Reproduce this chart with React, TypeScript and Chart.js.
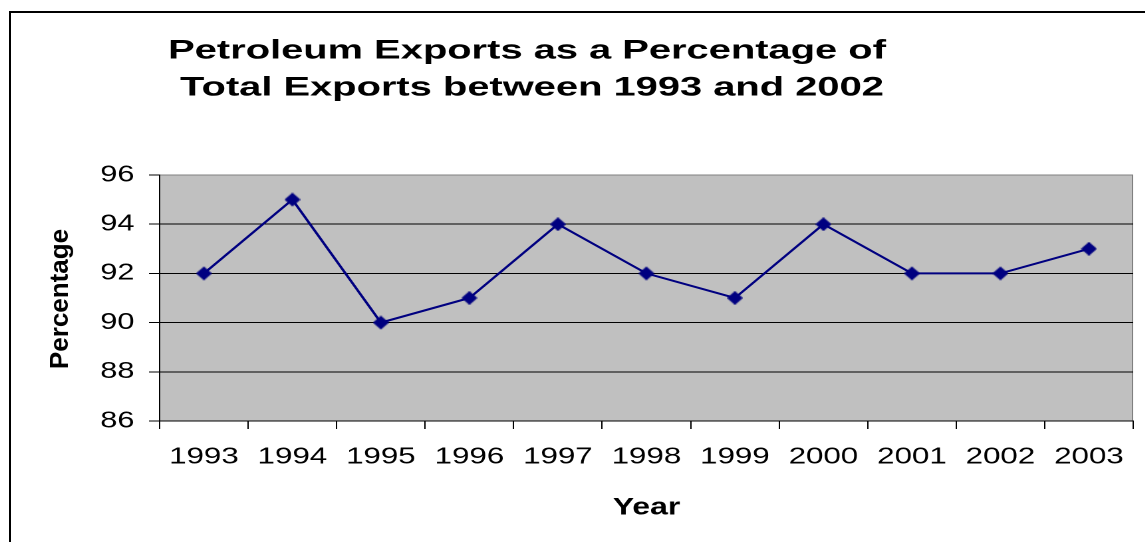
import React, { useEffect, useRef } from 'react';
import { Chart, registerables } from 'chart.js';

Chart.register(...registerables);

const years = ['1993', '1994', '1995', '1996', '1997', '1998', '1999', '2000', '2001', '2002', '2003'];
const percentages = [92, 95, 90, 91, 94, 92, 91, 94, 92, 92, 93];
const yMin = 86;
const yMax = 96;
const yStep = 2;
const titleLines = ['Petroleum Exports as a Percentage of', 'Total Exports between 1993 and 2002'];
const xTitle = 'Year';
const yTitle = 'Percentage';

const SX = 1.33; // horizontal stretch applied to the whole canvas
const W = 855;
const H = 534;
const FONT = '"Liberation Sans", Arial, Helvetica, sans-serif';
const NAVY = '#000080';

function makeDiamond(): HTMLCanvasElement {
  const c = document.createElement('canvas');
  const w = 12;
  const h = 14;
  c.width = w;
  c.height = h;
  const g = c.getContext('2d')!;
  g.fillStyle = NAVY;
  g.beginPath();
  g.moveTo(w / 2, 0);
  g.lineTo(w, h / 2);
  g.lineTo(w / 2, h);
  g.lineTo(0, h / 2);
  g.closePath();
  g.fill();
  return c;
}

const decorPlugin = {
  id: 'decor',
  beforeDraw(chart: any) {
    const { ctx, chartArea } = chart;
    const { left, top, right, bottom } = chartArea;
    ctx.save();
    ctx.fillStyle = '#C0C0C0';
    ctx.fillRect(left, top, right - left, bottom - top);
    ctx.strokeStyle = '#808080';
    ctx.lineWidth = 1;
    ctx.beginPath();
    ctx.moveTo(right - 0.5, top);
    ctx.lineTo(right - 0.5, bottom);
    ctx.stroke();
    ctx.restore();
  },
  afterDraw(chart: any) {
    const { ctx } = chart;
    ctx.save();
    ctx.fillStyle = '#000';
    ctx.textBaseline = 'alphabetic';
    ctx.textAlign = 'center';
    // main title (two lines)
    const titlePos = [
      { x: (527 - 8) / SX, y: 58.5 - 8 },
      { x: (532 - 8) / SX, y: 95.5 - 8 },
    ];
    ctx.font = `bold 27px ${FONT}`;
    titleLines.forEach((line, i) => {
      ctx.save();
      ctx.translate(titlePos[i].x, titlePos[i].y);
      ctx.scale(1.11, 1);
      ctx.fillText(line, 0, 0);
      ctx.restore();
    });
    // x axis title
    ctx.font = `bold 24px ${FONT}`;
    ctx.save();
    ctx.translate((646.5 - 8) / SX, 514.3 - 8);
    ctx.fillText(xTitle, 0, 0);
    ctx.restore();
    // y axis title (rotated, un-stretched)
    ctx.font = `bold 26px ${FONT}`;
    ctx.save();
    ctx.translate((49 + 0.716 * 26 - 8) / SX, 299 - 8);
    ctx.scale(1 / SX, 1);
    ctx.rotate(-Math.PI / 2);
    ctx.fillText(yTitle, 0, 0);
    ctx.restore();
    ctx.restore();
  },
};

export default function App() {
  const ref = useRef<HTMLCanvasElement | null>(null);

  useEffect(() => {
    if (!ref.current) return;
    const diamond = makeDiamond();
    const chart = new Chart(ref.current, {
      type: 'line',
      data: {
        labels: years,
        datasets: [
          {
            label: yTitle,
            data: percentages,
            borderColor: NAVY,
            backgroundColor: NAVY,
            borderWidth: 2,
            pointStyle: diamond as any,
            pointRadius: 7,
            tension: 0,
            fill: false,
          },
        ],
      },
      options: {
        responsive: false,
        animation: false,
        devicePixelRatio: 2,
        layout: { padding: { top: 167, right: 9, left: 0, bottom: 0 } },
        plugins: {
          legend: { display: false },
          title: { display: false },
          tooltip: { enabled: false },
        },
        scales: {
          x: {
            type: 'category',
            offset: true,
            afterFit: (s: any) => {
              s.height = 121;
            },
            grid: {
              offset: true,
              drawOnChartArea: false,
              drawTicks: true,
              tickLength: 8,
              tickColor: '#000',
              color: '#000',
            },
            border: { display: true, color: '#000', width: 1 },
            ticks: {
              color: '#000',
              font: { family: FONT, size: 23.5 },
              padding: 14,
              maxRotation: 0,
              autoSkip: false,
            },
          },
          y: {
            min: yMin,
            max: yMax,
            afterFit: (s: any) => {
              s.width = 114;
            },
            grid: {
              color: (c: any) => (c.tick && c.tick.value === yMax ? '#808080' : '#000'),
              tickColor: '#000',
              tickLength: 8,
              lineWidth: 1,
            },
            border: { display: true, color: '#000', width: 1 },
            ticks: {
              stepSize: yStep,
              color: '#000',
              font: { family: FONT, size: 23 },
              padding: 11,
            },
          },
        },
      },
      plugins: [decorPlugin],
    });
    return () => chart.destroy();
  }, []);

  return (
    <div
      style={{
        position: 'fixed',
        left: 8,
        top: 8,
        width: 1137,
        height: 534,
        overflow: 'hidden',
        background: '#fff',
      }}
    >
      <canvas
        ref={ref}
        width={W}
        height={H}
        style={{
          position: 'absolute',
          left: 0,
          top: 0,
          width: `${W}px`,
          height: `${H}px`,
          transform: `scaleX(${SX})`,
          transformOrigin: '0 0',
        }}
      />
      <div
        style={{
          position: 'absolute',
          left: 1,
          top: 3,
          width: 2000,
          height: 2000,
          border: '2px solid #000',
          boxSizing: 'border-box',
          pointerEvents: 'none',
        }}
      />
    </div>
  );
}
